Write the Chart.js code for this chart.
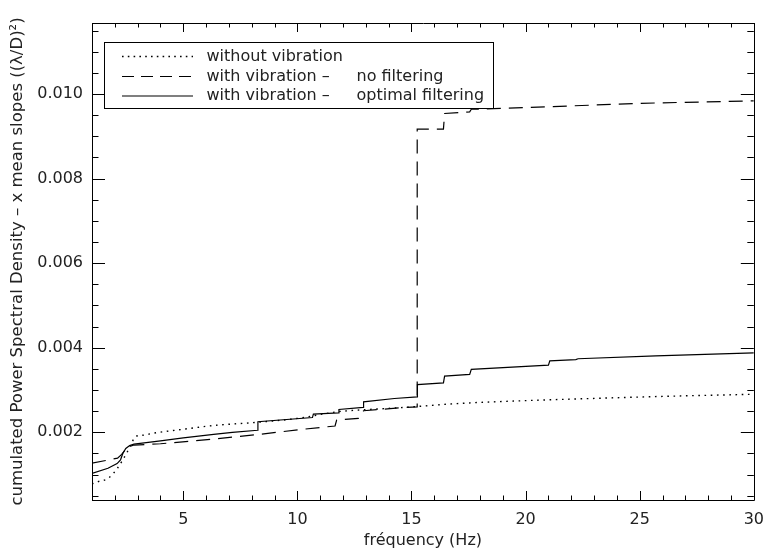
<!DOCTYPE html>
<html><head><meta charset="utf-8">
<script src="https://cdn.jsdelivr.net/npm/chart.js@4/dist/chart.umd.min.js"></script>
<style>html,body{margin:0;padding:0;background:#fff;}#wrap{width:774px;height:552px;}</style>
</head><body><div id="wrap"><canvas id="c" width="774" height="552"></canvas></div>
<script>
// ---- data ----
const freqWithout = [1, 1.3, 1.7, 2.1, 2.35, 2.55, 2.75, 2.9, 3.2, 3.7, 5.1, 6.3, 8.3, 10, 11.8, 12.8, 14.7, 17, 20, 22.85, 26, 30];
const psdWithout  = [0.00078, 0.00084, 0.00091, 0.00114, 0.00135, 0.00154, 0.00176, 0.0019, 0.00193, 0.00198, 0.00208, 0.00216, 0.00224, 0.00233, 0.00249, 0.00253, 0.00259, 0.00268, 0.00275, 0.0028, 0.00285, 0.0029];

const freqNoFilter = [1, 2.12, 2.3, 2.45, 2.6, 2.84, 4, 6.33, 8.3, 10.2, 11.65, 11.72, 12.67, 12.9, 14.7, 15.25, 15.25, 16.4, 16.45, 17.55, 17.62, 20, 22, 25, 30];
const psdNoFilter  = [0.00127, 0.00139, 0.00148, 0.00158, 0.00166, 0.0017, 0.00173, 0.00184, 0.00195, 0.00207, 0.00215, 0.00229, 0.00233, 0.00251, 0.00259, 0.0026, 0.00917, 0.00917, 0.00954, 0.00958, 0.00964, 0.00968, 0.00972, 0.00978, 0.00984];

const freqOptimal = [1, 1.7, 2.1, 2.25, 2.35, 2.48, 2.65, 2.84, 4, 5, 6.33, 7.15, 8.26, 8.27, 10.66, 10.7, 11.8, 11.82, 12.88, 12.9, 14.25, 15.25, 15.26, 16.4, 16.45, 17.55, 17.62, 21.0, 21.06, 22.2, 22.3, 25.7, 30];
const psdOptimal  = [0.00103, 0.00115, 0.00126, 0.00135, 0.0015, 0.00162, 0.00169, 0.00172, 0.0018, 0.00187, 0.00195, 0.002, 0.00205, 0.00225, 0.00235, 0.00243, 0.00246, 0.00254, 0.00259, 0.00272, 0.0028, 0.00284, 0.00313, 0.00317, 0.00333, 0.00337, 0.00349, 0.00359, 0.00369, 0.00372, 0.00374, 0.00381, 0.00388];

const seriesLabels = ['without vibration', 'with vibration –  no filtering', 'with vibration –  optimal filtering'];
const xTickLabels = [5, 10, 15, 20, 25, 30];
const yTickLabels = [0.002, 0.004, 0.006, 0.008, 0.010];
const xMinorTicks = [1,2,3,4,5,6,7,8,9,10,11,12,13,14,15,16,17,18,19,20,21,22,23,24,25,26,27,28,29,30];
const yMinorTicks = [0.0005,0.001,0.0015,0.002,0.0025,0.003,0.0035,0.004,0.0045,0.005,0.0055,0.006,0.0065,0.007,0.0075,0.008,0.0085,0.009,0.0095,0.010,0.0105,0.011,0.0115];
const xTitle = 'fréquency (Hz)';
const yTitle = 'cumulated Power Spectral Density – x mean slopes ((λ/D)²)';

const FONT = "'DejaVu Sans', sans-serif";
const TXT = '#222';
const pts = (xs, ys) => xs.map((x, i) => ({x: x, y: ys[i]}));

const frameTicks = {
  id: 'frameTicks',
  afterDatasetsDraw(chart) {
    const {ctx, chartArea: {left, right, top, bottom}, scales: {x, y}} = chart;
    ctx.save();
    ctx.strokeStyle = '#000';
    ctx.lineWidth = 1;
    ctx.setLineDash([]);
    ctx.beginPath();
    ctx.rect(Math.round(left) + 0.5, Math.round(top) + 0.5, Math.round(right - left), Math.round(bottom - top));
    xMinorTicks.forEach(f => {
      const px = Math.round(x.getPixelForValue(f)) + 0.5;
      const L = xTickLabels.includes(f) ? 9 : 4.5;
      ctx.moveTo(px, bottom); ctx.lineTo(px, bottom - L);
      ctx.moveTo(px, top); ctx.lineTo(px, top + L);
    });
    yMinorTicks.forEach(v => {
      if (v < y.min || v > y.max) return;
      const py = Math.round(y.getPixelForValue(v)) + 0.5;
      const major = yTickLabels.some(t => Math.abs(t - v) < 1e-9);
      const L = major ? 13 : 6.5;
      ctx.moveTo(left, py); ctx.lineTo(left + L, py);
      ctx.moveTo(right, py); ctx.lineTo(right - L, py);
    });
    ctx.stroke();
    ctx.restore();
  },
  afterDraw(chart) {
    const {ctx} = chart;
    const bx = 104.5, by = 42.5, bw = 389, bh = 66;
    ctx.save();
    ctx.fillStyle = '#fff';
    ctx.fillRect(bx, by, bw, bh);
    ctx.strokeStyle = '#000';
    ctx.lineWidth = 1;
    ctx.setLineDash([]);
    ctx.strokeRect(bx, by, bw, bh);
    const rows = [56, 76, 95.5];
    ctx.font = '16px ' + FONT;
    ctx.fillStyle = TXT;
    ctx.textBaseline = 'middle';
    chart.data.datasets.forEach((ds, i) => {
      const yy = rows[i] + 0.5;
      ctx.save();
      ctx.strokeStyle = ds.borderColor;
      ctx.lineWidth = ds.borderWidth;
      ctx.setLineDash(ds.legendDash);
      ctx.beginPath();
      ctx.moveTo(122, yy); ctx.lineTo(193, yy);
      ctx.stroke();
      ctx.restore();
      const parts = ds.label.split('–');
      if (parts.length > 1) {
        ctx.fillText(parts[0] + '–', 206.5, yy);
        ctx.fillText(parts[1].trim(), 356.5, yy);
      } else {
        ctx.fillText(ds.label, 206.5, yy);
      }
    });
    ctx.restore();
  }
};

new Chart(document.getElementById('c'), {
  type: 'scatter',
  data: {
    datasets: [
      {label: seriesLabels[0], data: pts(freqWithout, psdWithout), showLine: true, borderColor: '#000', borderWidth: 1.4, borderDash: [1.6, 4.6], legendDash: [1.6, 4.2], pointRadius: 0, tension: 0.25, cubicInterpolationMode: 'monotone'},
      {label: seriesLabels[1], data: pts(freqNoFilter, psdNoFilter), showLine: true, borderColor: '#000', borderWidth: 1.2, borderDash: [14, 8], legendDash: [12, 7], pointRadius: 0, tension: 0},
      {label: seriesLabels[2], data: pts(freqOptimal, psdOptimal), showLine: true, borderColor: '#000', borderWidth: 1.2, borderDash: [], legendDash: [], pointRadius: 0, tension: 0}
    ]
  },
  options: {
    responsive: false,
    animation: false,
    devicePixelRatio: 1,
    layout: {padding: {top: 23, right: 8, left: 0, bottom: 0}},
    plugins: {legend: {display: false}, tooltip: {enabled: false}},
    scales: {
      x: {
        type: 'linear', min: 1, max: 30,
        grid: {display: true, drawOnChartArea: false, drawTicks: false},
        border: {display: true, color: '#000', width: 1},
        afterBuildTicks: s => { s.ticks = xTickLabels.map(v => ({value: v})); },
        afterFit: s => { s.height = 52; },
        ticks: {color: TXT, font: {family: FONT, size: 16}, padding: 10, maxRotation: 0, autoSkip: false, callback: v => String(v)},
        title: {display: true, text: xTitle, color: TXT, font: {family: FONT, size: 16}, padding: {top: 0, bottom: 2}}
      },
      y: {
        type: 'linear', min: 0.0004, max: 0.01168,
        grid: {display: true, drawOnChartArea: false, drawTicks: false},
        border: {display: true, color: '#000', width: 1},
        afterBuildTicks: s => { s.ticks = yTickLabels.map(v => ({value: v})); },
        afterFit: s => { s.width = 92; },
        ticks: {color: TXT, font: {family: FONT, size: 16}, padding: 9, autoSkip: false, callback: v => v.toFixed(3)},
        title: {display: true, text: yTitle, color: TXT, font: {family: FONT, size: 16.5}, padding: {top: 8, bottom: 0}}
      }
    }
  },
  plugins: [frameTicks]
});
</script></body></html>
